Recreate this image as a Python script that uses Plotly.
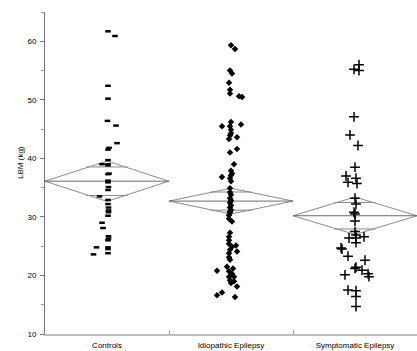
import plotly.graph_objects as go
import numpy as np

categories = ["Controls", "Idiopathic Epilepsy", "Symptomatic Epilepsy"]

ctrl_vals = [61.7, 60.9, 52.4, 50.2, 46.4, 45.6, 42.6, 41.8, 41.5, 39.7, 39.0, 39.0, 38.8,
             37.4, 37.3, 36.2, 35.9, 35.1, 34.6, 33.5, 32.9, 32.2, 31.6, 31.1, 30.8, 30.2,
             29.0, 28.1, 26.7, 26.3, 26.0, 24.8, 24.8, 24.5, 23.8, 23.6]
ctrl_jit = [1, 8, 1, 1, 0.5, 9, 10, 2, 1, 1, -5, 1, 1, 2, 1, 1, 1, 1.5, 1, -7.5, 1, 1, 1.5,
            1.5, 1.5, 1, -5, -4, 1.5, 1.5, 1, -10.5, 1, 1, 1, -13.5]

idio_vals = [59.3, 58.7, 55.0, 54.5, 52.9, 51.7, 51.1, 50.6, 50.5, 46.2, 45.8, 45.5, 45.5,
             44.9, 44.3, 43.9, 43.6, 43.3, 41.6, 41.0, 39.0, 37.9, 37.4, 37.1, 36.8, 36.6,
             36.1, 34.9, 34.2, 33.8, 33.2, 32.8, 32.4, 32.0, 31.6, 31.2, 30.9, 30.7, 30.3,
             29.7, 29.2, 27.3, 26.6, 26.0, 25.4, 25.1, 24.9, 24.4, 24.1, 23.8, 23.1, 22.7,
             21.5, 21.2, 20.8, 20.7, 20.3, 19.8, 19.8, 19.2, 19.0, 18.7, 18.1, 17.1, 16.6, 16.3]
idio_jit = [0, 4, -1, 1, -2, -1, -1, 8, 11, 0, 10, -9, -1, 0, 0, -1, 6, -2, 6, -1, 3, 0, 1, 0,
            -9, -1, 0, -1, -1, 0, -1, 0, -1, 0, -1, 0, -1, -1, -2, -2, 1, -1, -2, -2, -2, 5, 1,
            -1, 6, -2, -2, -1, -4, 2, -14, -2, 1, -2, 3, -1, 3, 0, 6, -9, -14, 4]

symp_vals = [56.0, 55.2, 55.0, 47.1, 44.0, 42.2, 38.5, 37.0, 36.6, 35.9, 35.7, 33.2, 32.2,
             30.8, 30.5, 29.3, 27.5, 26.9, 26.4, 26.4, 26.6, 25.6, 24.7, 24.5, 23.3, 22.6,
             21.4, 21.2, 20.9, 20.1, 20.3, 19.8, 17.5, 17.4, 16.4, 14.7]
symp_jit = [4, -1, 4, -1, -5, 3, 0, -9, 1, -7, 2, 0, 1, -1, 0, 0, 0, 1, -6, 1, 9, 1, -14, -13,
            -7, 10, 1, 0, 7, -10, 13, 14, -7, 1, 1, 1]

group_means = [36.1, 32.7, 30.2]
group_ci = [3.45, 2.2, 3.2]

PX_PER_UNIT = 124.0

fig = go.Figure()

# means diamonds
for i, (m, c) in enumerate(zip(group_means, group_ci)):
    cx = i + 0.5
    fig.add_trace(go.Scatter(x=[i, cx, i + 1, cx, i], y=[m, m + c, m, m - c, m],
                             mode="lines", line=dict(color="#8a8a8a", width=1),
                             hoverinfo="skip", showlegend=False))
    fig.add_trace(go.Scatter(x=[i, i + 1], y=[m, m], mode="lines",
                             line=dict(color="#6a6a6a", width=1),
                             hoverinfo="skip", showlegend=False))
    ov = c / np.sqrt(2)
    hw = 0.5 * (1 - 1 / np.sqrt(2)) + 0.02
    for s in (1, -1):
        fig.add_trace(go.Scatter(x=[cx - hw, cx + hw], y=[m + s * ov, m + s * ov], mode="lines",
                                 line=dict(color="#8a8a8a", width=1),
                                 hoverinfo="skip", showlegend=False))

def xs(i, jit):
    return [i + 0.5 + j / PX_PER_UNIT for j in jit]

fig.add_trace(go.Scatter(x=xs(0, ctrl_jit), y=ctrl_vals, mode="markers", showlegend=False,
                         marker=dict(symbol="line-ew", size=4, color="black",
                                     line=dict(color="black", width=2.5))))
fig.add_trace(go.Scatter(x=xs(1, idio_jit), y=idio_vals, mode="markers", showlegend=False,
                         marker=dict(symbol="diamond", size=5, color="black",
                                     line=dict(width=0))))
fig.add_trace(go.Scatter(x=xs(2, symp_jit), y=symp_vals, mode="markers", showlegend=False,
                         marker=dict(symbol="cross-thin", size=7, color="black",
                                     line=dict(color="black", width=1.5))))

fig.add_annotation(text="LBM (kg)", xref="paper", yref="paper", x=-0.085, y=0.534,
                   textangle=-90, showarrow=False,
                   font=dict(family="Liberation Sans, Arial", size=8, color="black"))

fig.update_layout(
    width=417, height=351,
    margin=dict(l=45, r=0, t=12, b=17),
    paper_bgcolor="white", plot_bgcolor="white",
    font=dict(family="Liberation Sans, Arial", size=8, color="black"),
    xaxis=dict(range=[0, 3], tickvals=[0.5, 1.5, 2.5], ticktext=categories,
               ticks="", showgrid=False, zeroline=False, showline=True,
               linecolor="#bdbdbd", linewidth=2, ticklabelstandoff=2,
               tickfont=dict(color="black"),
               minor=dict(tickvals=[1, 2], ticks="inside", ticklen=3,
                          tickcolor="#999999", tickwidth=1)),
    yaxis=dict(range=[10, 65], tickvals=[10, 20, 30, 40, 50, 60], ticks="outside",
               ticklen=4, tickcolor="#777777", tickwidth=1, showgrid=False,
               zeroline=False, showline=True, linecolor="#777777", linewidth=1,
               ticklabelstandoff=2, tickfont=dict(color="black"),
               minor=dict(dtick=5, tick0=0, ticks="outside", ticklen=3,
                          tickcolor="#999999", showgrid=False)),
)

fig.write_html("out.html")
